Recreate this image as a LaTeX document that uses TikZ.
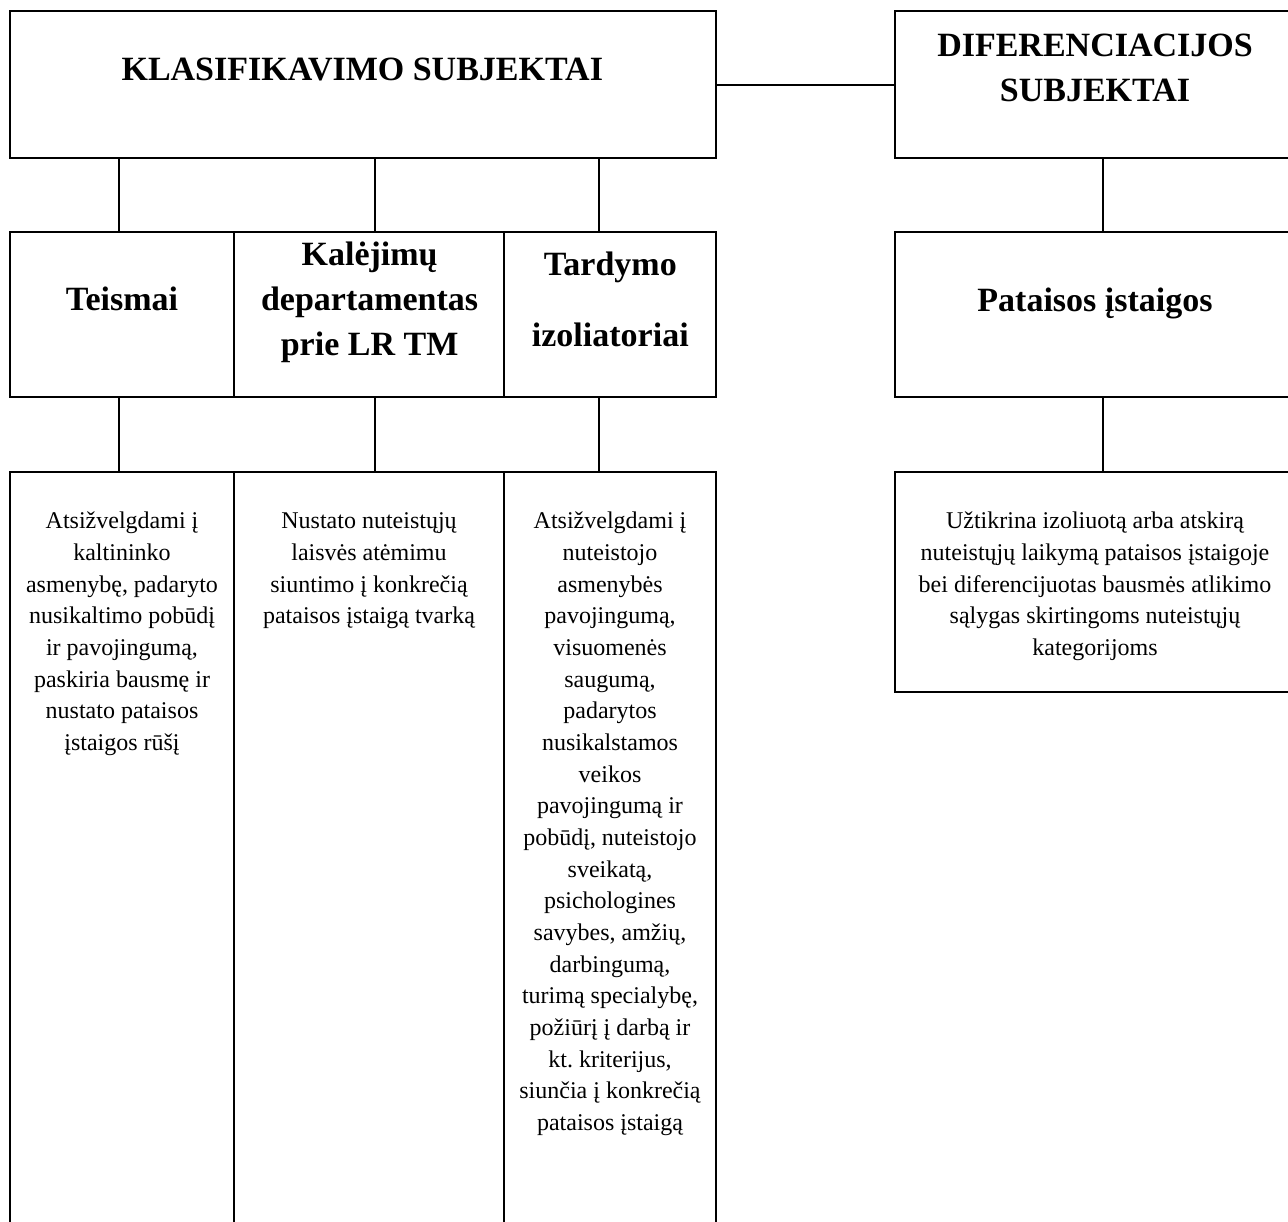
\documentclass[tikz,border=0pt]{standalone}
\usepackage{fontspec}
\setmainfont{Liberation Serif}
\frenchspacing
\begin{document}
\begin{tikzpicture}[x=1pt,y=-1pt,
  box/.style={draw, line width=2pt, rectangle, inner sep=0pt, outer sep=0pt, anchor=north west},
  head/.style={font=\bfseries\fontsize{34}{44.7}\selectfont, align=center, inner sep=0pt, anchor=north},
  headwide/.style={font=\bfseries\fontsize{34}{71.7}\selectfont, align=center, inner sep=0pt, anchor=north},
  body/.style={font=\frenchspacing\fontsize{24}{31.67}\selectfont, align=center, inner sep=0pt, anchor=north},
  conn/.style={line width=2pt}]
\useasboundingbox (0,0) rectangle (1288,1222);
% boxes
\node[box, minimum width=706, minimum height=147.5] (klas) at (10,11) {};
\node[box, minimum width=400, minimum height=147.5] (dif) at (895,11) {};
\node[box, minimum width=224, minimum height=165.6] (teis) at (10,231.7) {};
\node[box, minimum width=270, minimum height=165.6] (kal) at (234,231.7) {};
\node[box, minimum width=212, minimum height=165.6] (tard) at (504,231.7) {};
\node[box, minimum width=400, minimum height=165.6] (pat) at (895,231.7) {};
\node[box, minimum width=224, minimum height=800] (d1) at (10,471.7) {};
\node[box, minimum width=270, minimum height=800] (d2) at (234,471.7) {};
\node[box, minimum width=212, minimum height=800] (d3) at (504,471.7) {};
\node[box, minimum width=400, minimum height=220] (d4) at (895,471.7) {};
% connector x positions
\coordinate (x1) at (118.5,0);
\coordinate (x2) at (375,0);
\coordinate (x3) at (599,0);
\coordinate (x4) at (1103,0);
% connectors
\draw[conn] (klas.east) -- (dif.west);
\draw[conn] (klas.south -| x1) -- (teis.north -| x1);
\draw[conn] (klas.south -| x2) -- (kal.north -| x2);
\draw[conn] (klas.south -| x3) -- (tard.north -| x3);
\draw[conn] (dif.south -| x4) -- (pat.north -| x4);
\draw[conn] (teis.south -| x1) -- (d1.north -| x1);
\draw[conn] (kal.south -| x2) -- (d2.north -| x2);
\draw[conn] (tard.south -| x3) -- (d3.north -| x3);
\draw[conn] (pat.south -| x4) -- (d4.north -| x4);
% headings
\node[head] (tklas) at (362.3,48.7) {\strut KLASIFIKAVIMO SUBJEKTAI};
\node[head] (tdif) at (1095,25.4) {\strut DIFERENCIACIJOS\\SUBJEKTAI};
\node[head] (tteis) at (122,279.4) {\strut Teismai};
\node[head] (tkal) at (369.6,234.4) {\strut Kalėjimų\\departamentas\\prie LR TM};
\node[headwide] (ttard) at (610.3,224.8) {\strut Tardymo\\izoliatoriai};
\node[head] (tpat) at (1095,280.4) {\strut Pataisos įstaigos};
% body texts
\node[body] (b1) at (122,506.3) {\strut Atsižvelgdami į\\kaltininko\\asmenybę, padaryto\\nusikaltimo pobūdį\\ir pavojingumą,\\paskiria bausmę ir\\nustato pataisos\\įstaigos rūšį};
\node[body] (b2) at (369,506.3) {\strut Nustato nuteistųjų\\laisvės atėmimu\\siuntimo į konkrečią\\pataisos įstaigą tvarką};
\node[body] (b3) at (610,506.3) {\strut Atsižvelgdami į\\nuteistojo\\asmenybės\\pavojingumą,\\visuomenės\\saugumą,\\padarytos\\nusikalstamos\\veikos\\pavojingumą ir\\pobūdį, nuteistojo\\sveikatą,\\psichologines\\savybes, amžių,\\darbingumą,\\turimą specialybę,\\požiūrį į darbą ir\\kt. kriterijus,\\siunčia į konkrečią\\pataisos įstaigą};
\node[body] (b4) at (1095,506.3) {\strut Užtikrina izoliuotą arba atskirą\\nuteistųjų laikymą pataisos įstaigoje\\bei diferencijuotas bausmės atlikimo\\sąlygas skirtingoms nuteistųjų\\kategorijoms};
\end{tikzpicture}
\end{document}
